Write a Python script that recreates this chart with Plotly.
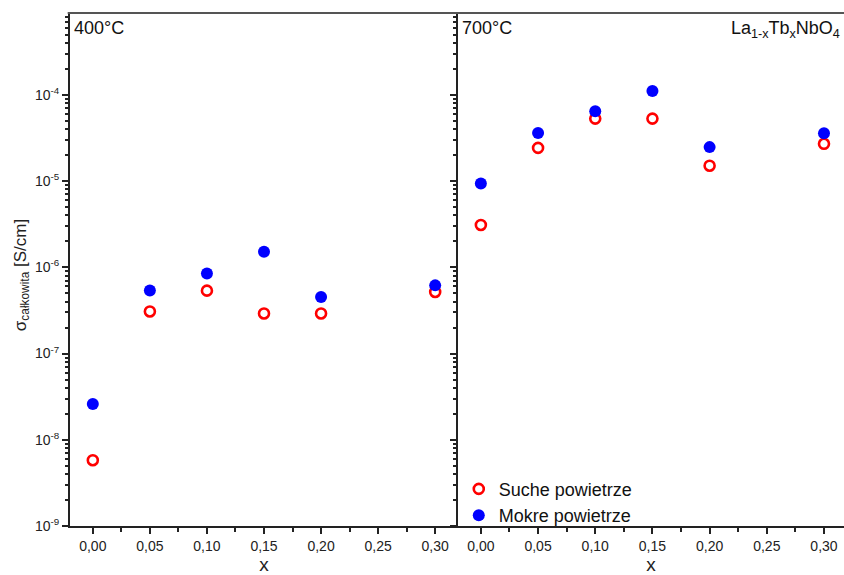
import plotly.graph_objects as go
from plotly.subplots import make_subplots

x_vals = [0.00, 0.05, 0.10, 0.15, 0.20, 0.30]
# 400 C
dry_400 = [5.8e-9, 3.08e-7, 5.37e-7, 2.92e-7, 2.92e-7, 5.18e-7]
wet_400 = [2.6e-8, 5.4e-7, 8.5e-7, 1.52e-6, 4.53e-7, 6.18e-7]
# 700 C
dry_700 = [3.1e-6, 2.43e-5, 5.31e-5, 5.31e-5, 1.51e-5, 2.71e-5]
wet_700 = [9.4e-6, 3.62e-5, 6.46e-5, 1.107e-4, 2.48e-5, 3.6e-5]

series_names = ["Suche powietrze", "Mokre powietrze"]
panel_labels = ["400°C", "700°C"]
compound = "La<sub>1-x</sub>Tb<sub>x</sub>NbO<sub>4</sub>"
y_title = "σ<sub>całkowita</sub> [S/cm]"
y_tickvals = [1e-9, 1e-8, 1e-7, 1e-6, 1e-5, 1e-4]
y_ticktext = ["10<sup>-9</sup>", "10<sup>-8</sup>", "10<sup>-7</sup>", "10<sup>-6</sup>",
              "10<sup>-5</sup>", "10<sup>-4</sup>"]
x_tickvals = [0.00, 0.05, 0.10, 0.15, 0.20, 0.25, 0.30]

minor_y = [m * 10.0 ** e for e in range(-9, -3) for m in range(2, 10)]
minor_x = [0.025 + 0.05 * i for i in range(-1, 7)]

FONT = "Liberation Sans, Arial, sans-serif"
fig = make_subplots(rows=1, cols=2, shared_yaxes=False, horizontal_spacing=0.0)

red = "#ff0000"
blue = "#0000ff"
for col, (dry, wet) in enumerate([(dry_400, wet_400), (dry_700, wet_700)], start=1):
    fig.add_trace(go.Scatter(x=x_vals, y=dry, mode="markers", name=series_names[0],
                             marker=dict(symbol="circle-open", size=10, color=red,
                                         line=dict(width=2.6, color=red)),
                             showlegend=(col == 2)), row=1, col=col)
    fig.add_trace(go.Scatter(x=x_vals, y=wet, mode="markers", name=series_names[1],
                             marker=dict(symbol="circle", size=12, color=blue),
                             showlegend=(col == 2)), row=1, col=col)

split = (458 - 70) / (844 - 70)
axis_common = dict(ticks="outside", ticklen=6, tickwidth=1.5, tickcolor="#222",
                   showline=True, linecolor="#222", linewidth=2, showgrid=False,
                   zeroline=False, tickfont=dict(family=FONT, size=14, color="#222"))

fig.update_xaxes(**axis_common, tickvals=x_tickvals, tickformat=".2f",
                 minor=dict(tickvals=minor_x, ticks="outside", ticklen=4, tickcolor="#222",
                            tickwidth=1.5),
                 title=dict(text="x", font=dict(family=FONT, size=19, color="#222"), standoff=8))
fig.update_xaxes(range=[-0.02, 0.32], domain=[0, split], row=1, col=1)
fig.update_xaxes(range=[-0.02, 0.3175], domain=[split, 1], row=1, col=2)

fig.update_yaxes(**axis_common, type="log", range=[-9, -3.05], tickvals=y_tickvals,
                 ticktext=y_ticktext,
                 minor=dict(tickvals=minor_y, ticks="outside", ticklen=3, tickcolor="#222",
                            tickwidth=1.5))
fig.update_yaxes(row=1, col=2, matches="y", showticklabels=False)

# y-axis title as rotated text
fig.add_annotation(text=y_title, xref="paper", yref="paper", x=(22 - 70) / 774, y=0.489,
                   xanchor="center", yanchor="middle", textangle=-90, showarrow=False,
                   font=dict(family=FONT, size=17, color="#222"))

# top border line
fig.add_shape(type="line", xref="paper", yref="paper", x0=-0.003, x1=1, y0=1, y1=1,
              line=dict(color="#555", width=2))

fig.add_annotation(text=panel_labels[0], xref="paper", yref="paper", x=0.003, y=0.995,
                   xanchor="left", yanchor="top", showarrow=False,
                   font=dict(family=FONT, size=18, color="#111"))
fig.add_annotation(text=panel_labels[1], xref="paper", yref="paper", x=split + 0.003, y=0.995,
                   xanchor="left", yanchor="top", showarrow=False,
                   font=dict(family=FONT, size=18, color="#111"))
fig.add_annotation(text=compound, xref="paper", yref="paper", x=0.998, y=0.995,
                   xanchor="right", yanchor="top", showarrow=False,
                   font=dict(family=FONT, size=18, color="#111"))

fig.update_layout(
    width=844, height=575,
    margin=dict(l=70, r=0, t=13, b=47),
    paper_bgcolor="white", plot_bgcolor="white",
    separators=",.",
    font=dict(family=FONT, color="#111"),
    legend=dict(x=split + 0.001, y=-0.015, xanchor="left", yanchor="bottom",
                bgcolor="rgba(0,0,0,0)", font=dict(family=FONT, size=18, color="#111"),
                tracegroupgap=0, itemsizing="trace"),
)

fig.write_html("out.html", config={"displayModeBar": False},
               post_script="document.body.style.margin='0';")
